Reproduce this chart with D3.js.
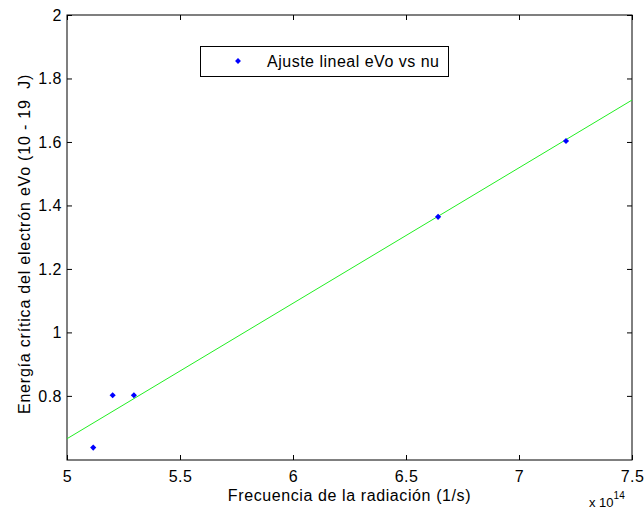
<!DOCTYPE html>
<html>
<head>
<meta charset="utf-8">
<script src="https://d3js.org/d3.v7.min.js"></script>
<style>
  body { margin: 0; background: #fff; }
  text { font-family: "Liberation Sans", Arial, sans-serif; fill: #000; }
</style>
</head>
<body>
<script>
  // measured points (frequency x1e14, energy x1e-19 J)
  const freq = [5.116, 5.202, 5.296, 6.642, 7.208];
  const energy = [0.637, 0.802, 0.802, 1.364, 1.603];
  // fitted line end points
  const fitX = [5, 7.5];
  const fitY = [0.665, 1.732];
  const xTicks = [5, 5.5, 6, 6.5, 7, 7.5];
  const yTicks = [0.8, 1, 1.2, 1.4, 1.6, 1.8, 2];

  const width = 644, height = 511;
  const plotL = 67, plotR = 632, plotT = 15, plotB = 460;

  const svg = d3.select("body").append("svg")
    .attr("width", width)
    .attr("height", height);

  const x = d3.scaleLinear().domain([5, 7.5]).range([plotL, plotR]);
  const y = d3.scaleLinear().domain([0.598, 2]).range([plotB, plotT]);

  // frame
  svg.append("rect")
    .attr("x", plotL).attr("y", plotT)
    .attr("width", plotR - plotL).attr("height", plotB - plotT)
    .attr("fill", "none").attr("stroke", "#000").attr("stroke-width", 1);

  // axes with inward ticks
  const xb = svg.append("g").attr("transform", "translate(0," + plotB + ")")
    .call(d3.axisBottom(x).tickValues(xTicks).tickSizeInner(-5).tickSizeOuter(0).tickPadding(11)
      .tickFormat(d3.format("")));
  const xt = svg.append("g").attr("transform", "translate(0," + plotT + ")")
    .call(d3.axisTop(x).tickValues(xTicks).tickSizeInner(-5).tickSizeOuter(0).tickFormat(""));
  const yl = svg.append("g").attr("transform", "translate(" + plotL + ",0)")
    .call(d3.axisLeft(y).tickValues(yTicks).tickSizeInner(-5).tickSizeOuter(0).tickPadding(5)
      .tickFormat(d3.format("")));
  const yr = svg.append("g").attr("transform", "translate(" + plotR + ",0)")
    .call(d3.axisRight(y).tickValues(yTicks).tickSizeInner(-5).tickSizeOuter(0).tickFormat(""));

  [xb, xt, yl, yr].forEach(function(g) {
    g.select(".domain").remove();
    g.selectAll("line").attr("stroke", "#000");
    g.selectAll("text").attr("font-size", "16px").attr("fill", "#000")
      .attr("letter-spacing", "0.5px")
      .style("font-family", "'Liberation Sans', Arial, sans-serif");
  });

  // fit line
  svg.append("line")
    .attr("x1", x(fitX[0])).attr("y1", y(fitY[0]))
    .attr("x2", x(fitX[1])).attr("y2", y(fitY[1]))
    .attr("stroke", "#22ee22").attr("stroke-width", 1);

  // data points as small diamonds
  svg.selectAll(".pt")
    .data(freq)
    .enter()
    .append("path")
    .attr("class", "pt")
    .attr("d", d3.symbol().type(d3.symbolDiamond2).size(24))
    .attr("transform", function(d, i) {
      return "translate(" + x(d) + "," + y(energy[i]) + ")";
    })
    .attr("fill", "#0000ff");

  // legend
  svg.append("rect")
    .attr("x", 200.5).attr("y", 46.5).attr("width", 248).attr("height", 30)
    .attr("fill", "#fff").attr("stroke", "#000");
  svg.append("path")
    .attr("d", d3.symbol().type(d3.symbolDiamond2).size(22))
    .attr("transform", "translate(238,61)")
    .attr("fill", "#0000ff");
  svg.append("text")
    .attr("x", 267).attr("y", 67)
    .attr("font-size", "16px")
    .attr("letter-spacing", "0.5px")
    .text("Ajuste lineal eVo vs nu");

  // axis labels
  svg.append("text")
    .attr("x", (plotL + plotR) / 2).attr("y", 501)
    .attr("text-anchor", "middle")
    .attr("font-size", "16px")
    .attr("letter-spacing", "0.6px")
    .text("Frecuencia de la radiación (1/s)");

  svg.append("text")
    .attr("transform", "translate(30,244) rotate(-90)")
    .attr("text-anchor", "middle")
    .attr("font-size", "16px")
    .attr("letter-spacing", "0.8px")
    .style("white-space", "pre")
    .text("Energía crítica del electrón eVo (10 - 19  J)");

  const mult = svg.append("text")
    .attr("x", 589).attr("y", 507)
    .attr("font-size", "13px");
  mult.append("tspan").text("x 10");
  mult.append("tspan").attr("dy", -8).attr("font-size", "10px").text("14");
</script>
</body>
</html>
